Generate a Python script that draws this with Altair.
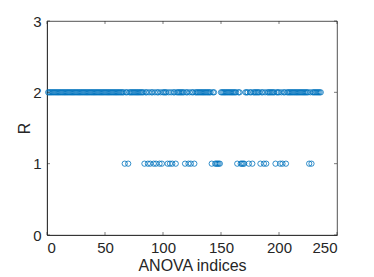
import altair as alt
import pandas as pd

# Total number of ANOVA indices (x runs 1..N)
n_indices = 236
# Indices whose R value is 1 (all the others are 2)
r_one_indices = [67, 70, 84, 87, 89, 92, 94, 97, 99, 104, 106, 108, 111,
                 119, 122, 124, 127, 142, 145, 146, 147, 148, 149,
                 164, 167, 168, 169, 170, 174, 177, 184, 187, 189,
                 197, 201, 203, 206, 226, 228]
x_ticks = [0, 50, 100, 150, 200, 250]
y_ticks = [0, 1, 2, 3]

idx = list(range(1, n_indices + 1))
rvals = [1 if i in r_one_indices else 2 for i in idx]
df = pd.DataFrame({"idx": idx, "R": rvals})

W, H = 290, 214
grey = "#262626"
font = "Liberation Sans"

xs = alt.Scale(domain=[0, 250], nice=False)
ys = alt.Scale(domain=[0, 3], nice=False)

pts = alt.Chart(df).mark_point(shape="circle", filled=False, size=28,
                               strokeWidth=0.8, color="#0072BD", opacity=1).encode(
    x=alt.X("idx:Q", scale=xs,
            axis=alt.Axis(values=x_ticks, format="d", title="ANOVA indices", tickSize=0,
                          labelPadding=5, grid=False, domainColor=grey,
                          labelColor=grey, titleColor=grey, labelFontSize=15,
                          titleFontSize=16, titleFontWeight="normal",
                          titlePadding=2, labelFont=font, titleFont=font)),
    y=alt.Y("R:Q", scale=ys,
            axis=alt.Axis(values=y_ticks, format="d", title="R", tickSize=0,
                          labelPadding=6, grid=False, domainColor=grey,
                          labelColor=grey, titleColor=grey, labelFontSize=15,
                          titleFontSize=16, titleFontWeight="normal",
                          titlePadding=0, labelFont=font, titleFont=font)),
)

xt = pd.DataFrame({"v": x_ticks})
yt = pd.DataFrame({"v": y_ticks})
tl = 3
xb = alt.Chart(xt).mark_rule(color=grey, strokeWidth=0.6).encode(
    x=alt.X("v:Q", scale=xs), y=alt.value(H), y2=alt.value(H - tl))
xtp = alt.Chart(xt).mark_rule(color=grey, strokeWidth=0.6).encode(
    x=alt.X("v:Q", scale=xs), y=alt.value(0), y2=alt.value(tl))
yl = alt.Chart(yt).mark_rule(color=grey, strokeWidth=0.6).encode(
    y=alt.Y("v:Q", scale=ys), x=alt.value(0), x2=alt.value(tl))
yr = alt.Chart(yt).mark_rule(color=grey, strokeWidth=0.6).encode(
    y=alt.Y("v:Q", scale=ys), x=alt.value(W), x2=alt.value(W - tl))

chart = alt.layer(pts, xb, xtp, yl, yr).properties(
    width=W, height=H,
    autosize=alt.AutoSizeParams(type="none"),
    padding={"left": 39, "top": 13, "right": 20, "bottom": 45},
).configure_view(stroke=grey, strokeWidth=0.8).configure_axis(domainWidth=0.8)

chart.save("out.html", embed_options={"renderer": "svg", "actions": False})
